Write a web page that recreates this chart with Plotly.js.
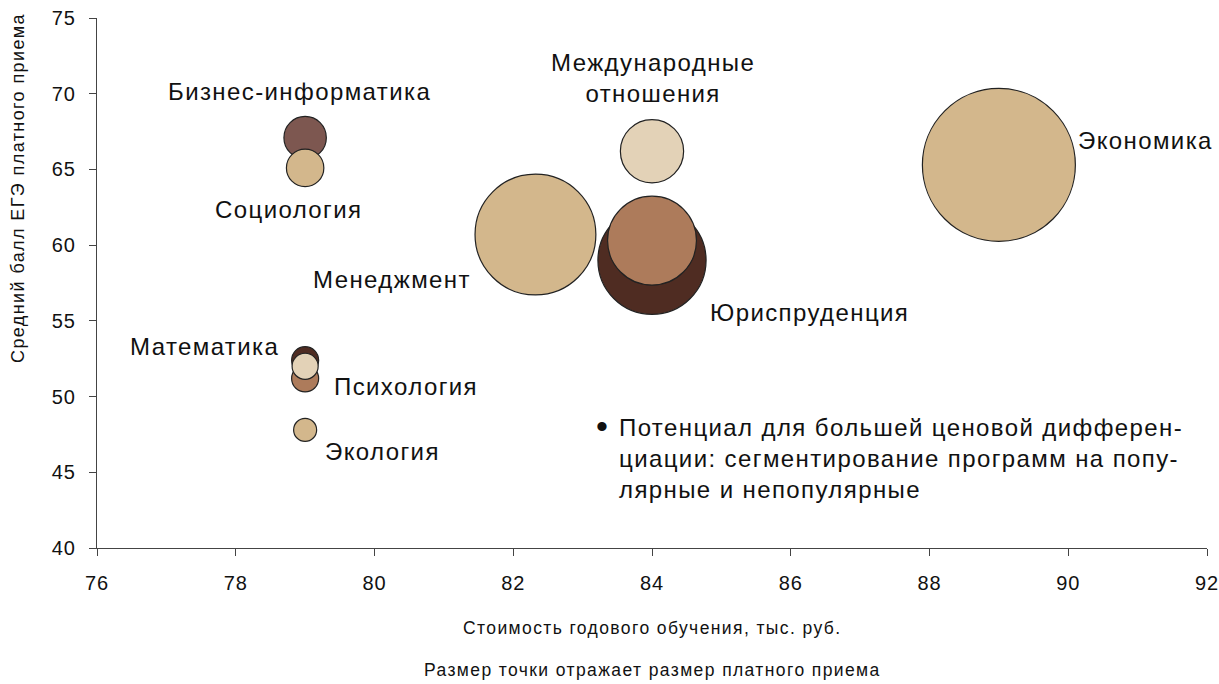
<!DOCTYPE html>
<html>
<head>
<meta charset="utf-8">
<script src="https://cdn.plot.ly/plotly-3.0.1.min.js"></script>
<style>
html,body{margin:0;padding:0;background:#fff;}
#chart{width:1219px;height:684px;}
text.annotation-text{letter-spacing:1.4px;}
.xtick text,.ytick text{letter-spacing:1px;}
</style>
</head>
<body>
<div id="chart"></div>
<script>
// Programs (draw order matters: later bubbles are drawn on top)
const programs = ["Юриспруденция", "Юриспруденция (2)", "Менеджмент", "Международные отношения", "Экономика",
                  "Бизнес-информатика", "Социология", "Математика", "Психология", "Математика (2)", "Экология"];
// Annual tuition cost, thousand roubles
const cost = [84, 84, 82.32, 84, 89, 79, 79, 79, 79, 79, 79];
// Average USE score of paid admissions
const score = [59.0, 60.3, 60.7, 66.2, 65.3, 67.1, 65.1, 52.4, 51.2, 52.0, 47.8];
// Size of paid admission (relative units)
const intake = [117, 79, 146, 40, 234, 18, 14, 7.3, 7.3, 6.8, 5.3];
const colors = ["#4f2c22", "#ad7b5b", "#d3b78c", "#e3d2b7", "#d3b78c",
                "#7d5750", "#d3b78c", "#4f2c22", "#ad7b5b", "#e3d2b7", "#d3b78c"];

const xTicks = [76, 78, 80, 82, 84, 86, 88, 90, 92];
const yTicks = [40, 45, 50, 55, 60, 65, 70, 75];

const FONT = "Liberation Sans, Arial, sans-serif";
const L = 97, R = 12, T = 18, B = 136, W = 1219, H = 684;
const PW = W - L - R, PH = H - T - B;
// pixel -> data helpers for label placement
const dx = px => 76 + (px - L) / PW * 16;
const dy = py => 75 - (py - T) / PH * 35;
const px2paperX = px => (px - L) / PW;
const py2paperY = py => 1 - (py - T) / PH;

const trace = {
  type: "scatter",
  mode: "markers",
  x: cost,
  y: score,
  text: programs,
  hoverinfo: "text",
  marker: {
    size: intake,
    sizemode: "area",
    sizeref: 0.02,
    color: colors,
    opacity: 1,
    line: {color: "#222", width: 1.2}
  },
  cliponaxis: false
};

function lab(text, px, py, xanchor, size) {
  return {text: text, x: dx(px), y: dy(py), xref: "x", yref: "y", showarrow: false,
          xanchor: xanchor || "center", yanchor: "middle",
          font: {family: FONT, size: size || 24, color: "#111"}};
}
function note(text, px, py, size, angle) {
  return {text: text, x: px2paperX(px), y: py2paperY(py), xref: "paper", yref: "paper",
          showarrow: false, xanchor: "center", yanchor: "middle", textangle: angle || 0,
          font: {family: FONT, size: size, color: "#111"}};
}

const annotations = [
  lab("Бизнес-информатика", 299, 91),
  lab("Социология", 288, 209),
  lab("Менеджмент", 392, 279),
  lab("Международные<br>отношения", 653, 78),
  lab("Экономика", 1145, 140),
  lab("Юриспруденция", 809, 312),
  lab("Математика", 204, 346),
  lab("Психология", 406, 386),
  lab("Экология", 382, 451),
  lab("•", 602, 426, "center", 34),
  Object.assign(lab("Потенциал для большей ценовой дифферен-<br>циации: сегментирование программ на попу-<br>лярные и непопулярные", 617, 458, "left"), {align: "left"}),
  note("Средний балл ЕГЭ платного приема", 18, 188, 18, -90),
  note("Стоимость годового обучения, тыс. руб.", 652, 628, 17.5),
  note("Размер точки отражает размер платного приема", 652, 670, 17.5)
];

const layout = {
  width: W, height: H,
  margin: {l: L, r: R, t: T, b: B},
  paper_bgcolor: "#fff", plot_bgcolor: "#fff",
  showlegend: false,
  font: {family: FONT, color: "#111"},
  xaxis: {
    range: [76, 92], tickvals: xTicks, ticktext: xTicks.map(String),
    showgrid: false, zeroline: false, showline: true, linecolor: "#444", linewidth: 1,
    ticks: "outside", ticklen: 7, tickcolor: "#444", tickwidth: 1,
    tickfont: {family: FONT, size: 20, color: "#111"}, ticklabelstandoff: 10,
    ticklabeloverflow: "allow"
  },
  yaxis: {
    range: [40, 75], tickvals: yTicks, ticktext: yTicks.map(String),
    showgrid: false, zeroline: false, showline: true, linecolor: "#444", linewidth: 1,
    ticks: "outside", ticklen: 7, tickcolor: "#444", tickwidth: 1,
    tickfont: {family: FONT, size: 20, color: "#111"}, ticklabelstandoff: 9,
    ticklabeloverflow: "allow"
  },
  annotations: annotations
};

Plotly.newPlot("chart", [trace], layout, {displayModeBar: false, staticPlot: true});
</script>
</body>
</html>
